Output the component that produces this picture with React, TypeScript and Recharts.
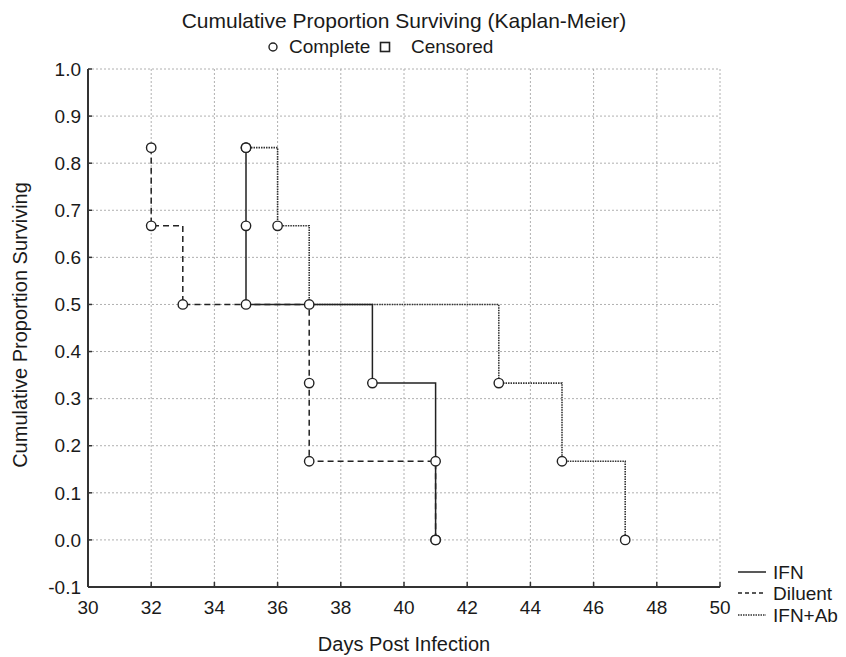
import React from 'react';
import { LineChart, Line, XAxis, YAxis, CartesianGrid } from 'recharts';

const xTicks = [30, 32, 34, 36, 38, 40, 42, 44, 46, 48, 50];
const yTicks = [-0.1, 0.0, 0.1, 0.2, 0.3, 0.4, 0.5, 0.6, 0.7, 0.8, 0.9, 1.0];

const ifnDays = [35, 35, 35, 39, 41, 41];
const ifnSurvival = [0.833, 0.667, 0.5, 0.333, 0.167, 0.0];

const diluentDays = [32, 32, 33, 37, 37, 41];
const diluentSurvival = [0.833, 0.667, 0.5, 0.333, 0.167, 0.0];

const ifnAbDays = [35, 36, 37, 43, 45, 47];
const ifnAbSurvival = [0.833, 0.667, 0.5, 0.333, 0.167, 0.0];

const toPoints = (days: number[], surv: number[]) =>
  days.map((d, i) => ({ day: d, surv: surv[i] }));

const ifnData = toPoints(ifnDays, ifnSurvival);
const diluentData = toPoints(diluentDays, diluentSurvival);
const ifnAbData = toPoints(ifnAbDays, ifnAbSurvival);

const FONT = '"Liberation Sans", Arial, Helvetica, sans-serif';
const INK = '#1a1a1a';

const BottomTick = (props: any) => {
  const { x, y, payload } = props;
  return (
    <g>
      <line x1={x} x2={x} y1={y - 14} y2={y - 19} stroke="#333" strokeWidth={1.5} />
      <text x={x} y={y} dy="0.71em" textAnchor="middle" fontSize={19} fill={INK} fontFamily={FONT}>
        {payload.value}
      </text>
    </g>
  );
};

const LeftTick = (props: any) => {
  const { x, y, payload } = props;
  return (
    <g>
      <line x1={x + 7} x2={x + 11} y1={y} y2={y} stroke="#333" strokeWidth={1.5} />
      <text x={x} y={y} dy="0.355em" textAnchor="end" fontSize={19} fill={INK} fontFamily={FONT}>
        {Number(payload.value).toFixed(1)}
      </text>
    </g>
  );
};

const TopTick = (props: any) => {
  const { x, y } = props;
  return <line x1={x} x2={x} y1={y} y2={y + 5} stroke="#333" strokeWidth={1.5} />;
};

const RightTick = (props: any) => {
  const { x, y } = props;
  return <line x1={x} x2={x - 5} y1={y} y2={y} stroke="#333" strokeWidth={1.5} />;
};

const dotStyle = { r: 4.7, fill: '#fff', stroke: '#222', strokeWidth: 1.4, strokeDasharray: 'none' };

export default function App() {
  return (
    <div style={{ position: 'absolute', left: 0, top: 0, width: 846, height: 657, background: '#fff' }}>
      <LineChart width={846} height={657} margin={{ top: 69, right: 126, bottom: 0, left: 0 }}>
        <CartesianGrid stroke="#b0b0b0" strokeDasharray="2 2" strokeWidth={1} />
        <XAxis
          dataKey="day"
          type="number"
          domain={[30, 50]}
          ticks={xTicks}
          interval={0}
          height={70}
          tickSize={0}
          tickMargin={14}
          tick={<BottomTick />}
          tickLine={false}
          axisLine={{ stroke: '#333', strokeWidth: 2 }}
        />
        <XAxis
          xAxisId="top"
          orientation="top"
          dataKey="day"
          type="number"
          domain={[30, 50]}
          ticks={xTicks}
          interval={0}
          height={0}
          tickSize={0}
          tickMargin={0}
          tick={<TopTick />}
          tickLine={false}
          axisLine={{ stroke: '#333', strokeWidth: 2 }}
        />
        <YAxis
          type="number"
          domain={[-0.1, 1.0]}
          ticks={yTicks}
          interval={0}
          width={88}
          tickSize={0}
          tickMargin={7}
          tick={<LeftTick />}
          tickLine={false}
          axisLine={{ stroke: '#333', strokeWidth: 2 }}
        />
        <YAxis
          yAxisId="right"
          orientation="right"
          type="number"
          domain={[-0.1, 1.0]}
          ticks={yTicks}
          interval={0}
          width={0}
          tickSize={0}
          tickMargin={0}
          tick={<RightTick />}
          tickLine={false}
          axisLine={{ stroke: '#333', strokeWidth: 2 }}
        />
        <Line
          data={diluentData}
          dataKey="surv"
          type="stepAfter"
          stroke="#222"
          strokeWidth={1.5}
          strokeDasharray="6 4"
          dot={dotStyle}
          isAnimationActive={false}
        />
        <Line
          data={ifnAbData}
          dataKey="surv"
          type="stepAfter"
          stroke="#333"
          strokeWidth={1.6}
          strokeDasharray="1.5 1"
          dot={dotStyle}
          isAnimationActive={false}
        />
        <Line
          data={ifnData}
          dataKey="surv"
          type="stepAfter"
          stroke="#222"
          strokeWidth={1.5}
          dot={dotStyle}
          isAnimationActive={false}
        />
      </LineChart>
      <svg
        width={846}
        height={657}
        style={{ position: 'absolute', left: 0, top: 0, pointerEvents: 'none' }}
        fontFamily={FONT}
        fill={INK}
      >
        <text x={404} y={28} textAnchor="middle" fontSize={21}>
          Cumulative Proportion Surviving (Kaplan-Meier)
        </text>
        <circle cx={273} cy={47} r={4} fill="#fff" stroke="#222" strokeWidth={1.4} />
        <text x={289} y={53} fontSize={19}>Complete</text>
        <rect x={380.5} y={42.5} width={9} height={9} fill="#fff" stroke="#222" strokeWidth={1.6} />
        <text x={411} y={53} fontSize={19}>Censored</text>

        <text
          x={27}
          y={325}
          textAnchor="middle"
          fontSize={20}
          transform="rotate(-90, 27, 325)"
        >
          Cumulative Proportion Surviving
        </text>
        <text x={404} y={651} textAnchor="middle" fontSize={20}>
          Days Post Infection
        </text>

        <line x1={738} x2={766} y1={572} y2={572} stroke="#222" strokeWidth={1.5} />
        <text x={773} y={579} fontSize={19}>IFN</text>
        <line x1={738} x2={766} y1={593} y2={593} stroke="#222" strokeWidth={1.5} strokeDasharray="4 3" />
        <text x={773} y={600} fontSize={19}>Diluent</text>
        <line x1={738} x2={766} y1={615} y2={615} stroke="#333" strokeWidth={1.5} strokeDasharray="1.5 1" />
        <text x={773} y={622} fontSize={19}>IFN+Ab</text>
      </svg>
    </div>
  );
}
